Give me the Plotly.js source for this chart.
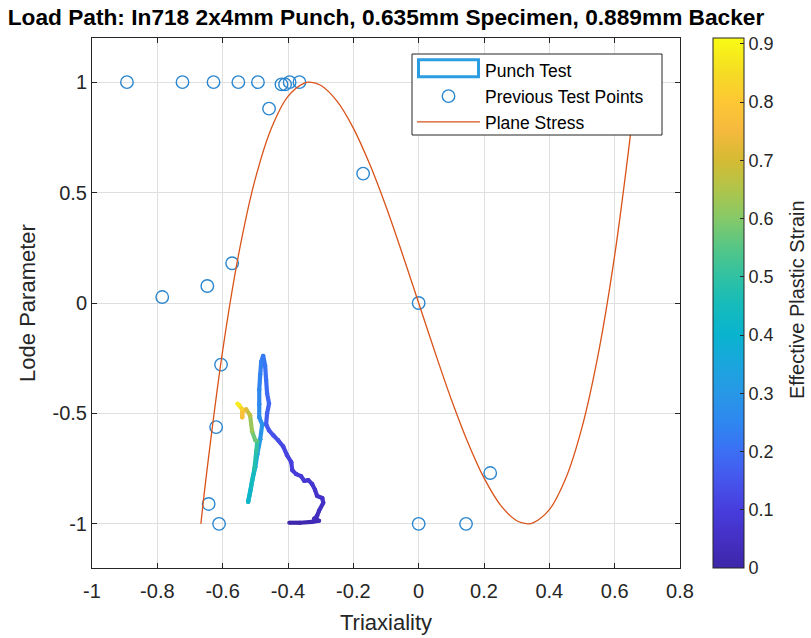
<!DOCTYPE html>
<html><head><meta charset="utf-8">
<script src="https://cdn.plot.ly/plotly-3.0.1.min.js"></script>
<style>html,body{margin:0;padding:0;background:#fff}</style>
</head><body><div id="chart" style="width:811px;height:638px"></div>
<script>
// ---- data ----
const prevX = [-0.893,-0.723,-0.628,-0.552,-0.492,-0.420,-0.409,-0.395,-0.365,-0.458,-0.170,-0.571,-0.785,-0.647,0.000,-0.605,-0.620,-0.643,-0.611,0.219,0.000,0.145];
const prevY = [1.000,1.000,1.000,1.000,1.000,0.990,0.990,1.000,1.000,0.880,0.586,0.180,0.027,0.077,0.000,-0.279,-0.562,-0.910,-1.000,-0.770,-1.000,-1.000];

const planeX = [-0.6667,-0.65,-0.6,-0.55,-0.5,-0.45,-0.4,-0.35,-0.3333,-0.3,-0.25,-0.2,-0.15,-0.1,-0.05,0,0.05,0.1,0.15,0.2,0.25,0.3,0.3333,0.35,0.4,0.45,0.5,0.55,0.6,0.65,0.6667];
const planeY = [-1,-0.782,-0.216,0.229,0.563,0.795,0.936,0.996,1,0.986,0.914,0.792,0.629,0.437,0.223,0,-0.223,-0.437,-0.629,-0.792,-0.914,-0.986,-1,-0.996,-0.936,-0.795,-0.563,-0.229,0.216,0.782,1];

const punchX = [-0.396,-0.363,-0.326,-0.305,-0.320,-0.311,-0.305,-0.292,-0.295,-0.311,-0.317,-0.326,-0.338,-0.350,-0.360,-0.375,-0.387,-0.390,-0.403,-0.415,-0.430,-0.445,-0.458,-0.467,-0.464,-0.458,-0.464,-0.467,-0.470,-0.476,-0.482,-0.485,-0.488,-0.488,-0.488,-0.479,-0.485,-0.494,-0.500,-0.510,-0.516,-0.522,-0.513,-0.503,-0.497,-0.494,-0.500,-0.510,-0.516,-0.528,-0.540,-0.540,-0.540,-0.549,-0.555];
const punchY = [-0.995,-0.995,-0.991,-0.986,-0.977,-0.964,-0.941,-0.905,-0.883,-0.874,-0.847,-0.820,-0.802,-0.806,-0.784,-0.775,-0.757,-0.721,-0.689,-0.649,-0.622,-0.599,-0.577,-0.550,-0.500,-0.455,-0.410,-0.347,-0.284,-0.239,-0.266,-0.324,-0.392,-0.459,-0.518,-0.550,-0.617,-0.685,-0.743,-0.806,-0.856,-0.901,-0.833,-0.752,-0.671,-0.626,-0.622,-0.581,-0.509,-0.482,-0.491,-0.518,-0.482,-0.464,-0.455];
const punchStrain = [0.00,0.01,0.02,0.03,0.035,0.04,0.045,0.05,0.055,0.06,0.065,0.07,0.075,0.08,0.085,0.09,0.095,0.10,0.11,0.12,0.13,0.14,0.15,0.16,0.17,0.18,0.19,0.20,0.21,0.22,0.23,0.24,0.25,0.26,0.27,0.28,0.30,0.32,0.34,0.36,0.38,0.40,0.43,0.46,0.49,0.52,0.55,0.60,0.65,0.70,0.74,0.76,0.80,0.85,0.91];

const xTickVals = [-1,-0.8,-0.6,-0.4,-0.2,0,0.2,0.4,0.6,0.8];
const xTickText = ['-1','-0.8','-0.6','-0.4','-0.2','0','0.2','0.4','0.6','0.8'];
const yTickVals = [-1,-0.5,0,0.5,1];
const yTickText = ['-1','-0.5','0','0.5','1'];
const cbTickVals = [0,0.1,0.2,0.3,0.4,0.5,0.6,0.7,0.8,0.9];
const cbTickText = ['0','0.1','0.2','0.3','0.4','0.5','0.6','0.7','0.8','0.9'];
const strainMin = 0, strainMax = 0.91;

// ---- style ----
const parula = [[0,'#3e26a8'],[0.055,'#4430c4'],[0.11,'#473ddd'],[0.165,'#4655ec'],[0.22,'#3c6ff5'],[0.275,'#2e87f0'],[0.33,'#2898e6'],[0.385,'#1aa6dd'],[0.44,'#09b3cf'],[0.495,'#15bbbb'],[0.55,'#30c1a3'],[0.605,'#56c686'],[0.66,'#86c968'],[0.715,'#b0c44a'],[0.77,'#d5bb33'],[0.825,'#f5b93e'],[0.88,'#fdc734'],[0.935,'#f5dc24'],[1,'#f9fb14']];
function hex2rgb(h){return [parseInt(h.substr(1,2),16),parseInt(h.substr(3,2),16),parseInt(h.substr(5,2),16)];}
function cmap(v){
  let t=(v-strainMin)/(strainMax-strainMin); t=Math.max(0,Math.min(1,t));
  for(let i=1;i<parula.length;i++){
    if(t<=parula[i][0]){
      const a=parula[i-1],b=parula[i];const f=(t-a[0])/(b[0]-a[0]);
      const ca=hex2rgb(a[1]),cb=hex2rgb(b[1]);
      return 'rgb('+ca.map((c,k)=>Math.round(c+(cb[k]-c)*f)).join(',')+')';
    }
  }
  return parula[parula.length-1][1];
}
const FONT='Liberation Sans, Arial, Helvetica, sans-serif';
const TXT='#262626';

const traces=[];
// legend-only entry for punch test (icon drawn as shape)
traces.push({type:'scatter',mode:'lines',x:[9,9.1],y:[9,9],name:'Punch Test',line:{color:'rgba(0,0,0,0)',width:3},hoverinfo:'skip'});
traces.push({type:'scatter',mode:'markers',x:prevX,y:prevY,name:'Previous Test Points',
  marker:{symbol:'circle-open',size:12.5,color:'#2a86cf',line:{width:1.4,color:'#2a86cf'}}});
traces.push({type:'scatter',mode:'lines',x:planeX,y:planeY,name:'Plane Stress',line:{color:'#D95319',width:1.3,shape:'spline'}});
for(let i=0;i<punchX.length-1;i++){
  const c=cmap((punchStrain[i]+punchStrain[i+1])/2);
  traces.push({type:'scatter',mode:'lines+markers',x:[punchX[i],punchX[i+1]],y:[punchY[i],punchY[i+1]],
    line:{color:c,width:4.2},marker:{color:c,size:4.2},showlegend:false,hoverinfo:'skip'});
}
// colorbar carrier
traces.push({type:'scatter',mode:'markers',x:[9],y:[9],showlegend:false,hoverinfo:'skip',
  marker:{color:[0],colorscale:parula,cmin:strainMin,cmax:strainMax,showscale:true,
    colorbar:{x:1.0561,xanchor:'left',xpad:0,ypad:0,y:0.5,yanchor:'middle',len:1,lenmode:'fraction',
      thickness:31,thicknessmode:'pixels',outlinecolor:TXT,outlinewidth:1,
      tickmode:'array',tickvals:cbTickVals,ticktext:cbTickText,ticks:'inside',ticklen:4,tickcolor:TXT,
      tickfont:{family:FONT,size:18,color:TXT}}}});

const px=(p)=>(p-92)/588, py=(p)=>(568-p)/530;
const layout={
  width:811,height:638,
  margin:{l:92,r:131,t:38,b:70},
  paper_bgcolor:'#fff',plot_bgcolor:'#fff',
  font:{family:FONT,color:TXT},
  title:{text:'<b>Load Path: In718 2x4mm Punch, 0.635mm Specimen, 0.889mm Backer</b>',
    font:{family:FONT,size:22.7,color:'#000'},x:0.5,xref:'paper',y:1-17/638,yref:'container',yanchor:'middle'},
  xaxis:{range:[-1,0.8],tickmode:'array',tickvals:xTickVals,ticktext:xTickText,
    showgrid:true,gridcolor:'#dfdfdf',gridwidth:1,zeroline:false,
    showline:true,linecolor:TXT,linewidth:1,mirror:'ticks',ticks:'inside',ticklen:5,tickcolor:TXT,
    tickfont:{family:FONT,size:20,color:TXT},ticklabelstandoff:5,
    title:{text:'Triaxiality',font:{family:FONT,size:22,color:TXT},standoff:13}},
  yaxis:{range:[-1.2,1.2],tickmode:'array',tickvals:yTickVals,ticktext:yTickText,
    showgrid:true,gridcolor:'#dfdfdf',gridwidth:1,zeroline:false,
    showline:true,linecolor:TXT,linewidth:1,mirror:'ticks',ticks:'inside',ticklen:5,tickcolor:TXT,
    tickfont:{family:FONT,size:20,color:TXT},
    title:{text:'Lode Parameter',font:{family:FONT,size:22,color:TXT},standoff:10}},
  legend:{x:px(412),xanchor:'left',y:py(52.5),yanchor:'top',bgcolor:'rgba(0,0,0,0)',borderwidth:0,
    itemwidth:63,font:{family:FONT,size:17.5,color:'#000'},tracegroupgap:0},
  annotations:[
    {text:'Effective Plastic Strain',xref:'paper',yref:'paper',x:px(797),y:py(300),xanchor:'center',yanchor:'middle',
      textangle:-90,showarrow:false,font:{family:FONT,size:20,color:TXT}}
  ],
  shapes:[
    {type:'rect',xref:'paper',yref:'paper',x0:px(412),x1:px(662),y0:py(135),y1:py(54),
      line:{color:TXT,width:1},fillcolor:'#fff',layer:'above'},
    {type:'rect',xref:'paper',yref:'paper',x0:px(418.5),x1:px(478.5),y0:py(76.8),y1:py(59.8),
      line:{color:'#2b9de0',width:3},fillcolor:'rgba(0,0,0,0)',layer:'above'}
  ],
  showlegend:true
};
Plotly.newPlot('chart',traces,layout,{displayModeBar:false,staticPlot:true});
</script></body></html>
